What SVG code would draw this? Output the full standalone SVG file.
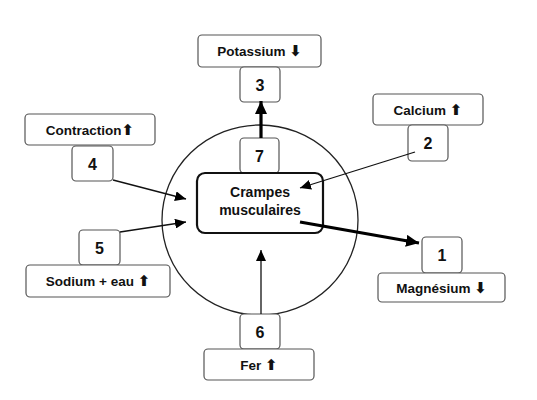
<svg xmlns="http://www.w3.org/2000/svg" width="537" height="400" viewBox="0 0 537 400">
<style>
.box{fill:#fff;stroke:#555;stroke-width:1.2}
.main{fill:#fff;stroke:#111;stroke-width:2.2}
.lbl{font-family:"Liberation Sans",Arial,sans-serif;font-weight:bold;font-size:13.5px;fill:#111;text-anchor:middle}
.big{font-size:14px}
.num{font-family:"Liberation Sans",Arial,sans-serif;font-weight:bold;font-size:16px;fill:#111;text-anchor:middle}
.sym{font-family:"DejaVu Sans",sans-serif;font-weight:bold;font-size:15px}
.thin{stroke:#111;stroke-width:1.3;fill:none}
.thick{stroke:#000;stroke-width:3.2;fill:none}
</style>
<defs>
<marker id="ah" markerUnits="userSpaceOnUse" markerWidth="12" markerHeight="10" refX="11" refY="5" orient="auto">
<path d="M0,0 L11,5 L0,10 Z" fill="#000"/>
</marker>
<marker id="ahT" markerUnits="userSpaceOnUse" markerWidth="14" markerHeight="12" refX="13" refY="6" orient="auto">
<path d="M0,0 L13,6 L0,12 Z" fill="#000"/>
</marker>
</defs>
<rect width="537" height="400" fill="#fff"/>
<ellipse cx="260" cy="220" rx="98" ry="95" fill="none" stroke="#222" stroke-width="1.3"/>
<g id="potassium"><rect class="box" x="198" y="35" width="123" height="32" rx="4"/><text class="lbl" x="259.5" y="56">Potassium <tspan class="sym">⬇</tspan></text></g>
<g id="n3"><rect class="box" x="240" y="67" width="40" height="35" rx="4"/><text class="num" x="260" y="90.5">3</text></g>
<g id="calcium"><rect class="box" x="373" y="94" width="110" height="31" rx="4"/><text class="lbl" x="428" y="114.5">Calcium <tspan class="sym">⬆</tspan></text></g>
<g id="n2"><rect class="box" x="408" y="125" width="40" height="36" rx="4"/><text class="num" x="428" y="149">2</text></g>
<g id="contraction"><rect class="box" x="25" y="114" width="130" height="31" rx="4"/><text class="lbl" x="90" y="134.5">Contraction<tspan class="sym">⬆</tspan></text></g>
<g id="n4"><rect class="box" x="72" y="146" width="41" height="35" rx="4"/><text class="num" x="92.5" y="169.5">4</text></g>
<g id="n7"><rect class="box" x="240" y="138" width="39" height="35" rx="4"/><text class="num" x="259.5" y="161.5">7</text></g>
<g id="crampes"><rect class="main" x="197" y="173" width="126" height="60" rx="8"/><text class="lbl big" x="260" y="197">Crampes</text><text class="lbl big" x="260" y="215">musculaires</text></g>
<g id="n5"><rect class="box" x="79" y="230" width="41" height="35" rx="4"/><text class="num" x="99.5" y="253.5">5</text></g>
<g id="sodium"><rect class="box" x="26" y="265" width="144" height="32" rx="4"/><text class="lbl" x="98" y="286">Sodium + eau <tspan class="sym">⬆</tspan></text></g>
<g id="n1"><rect class="box" x="422" y="237" width="40" height="36" rx="4"/><text class="num" x="442" y="261">1</text></g>
<g id="magnesium"><rect class="box" x="378" y="273" width="127" height="29" rx="4"/><text class="lbl" x="441.5" y="292.5">Magnésium <tspan class="sym">⬇</tspan></text></g>
<g id="n6"><rect class="box" x="240" y="314" width="40" height="35" rx="4"/><text class="num" x="260" y="337.5">6</text></g>
<g id="fer"><rect class="box" x="204" y="349" width="110" height="31" rx="4"/><text class="lbl" x="259" y="369.5">Fer <tspan class="sym">⬆</tspan></text></g>
<g id="connectors">
<path class="thick" d="M261,138 L261,101" marker-end="url(#ahT)"/>
<path class="thin" d="M415,152 L300,188" marker-end="url(#ah)"/>
<path class="thin" d="M113,180 L186,199" marker-end="url(#ah)"/>
<path class="thin" d="M120,232 L186,222" marker-end="url(#ah)"/>
<path class="thin" d="M261,314 L261,250" marker-end="url(#ah)"/>
<path class="thick" d="M300,222 L419,243" marker-end="url(#ahT)"/>
</g>
</svg>
